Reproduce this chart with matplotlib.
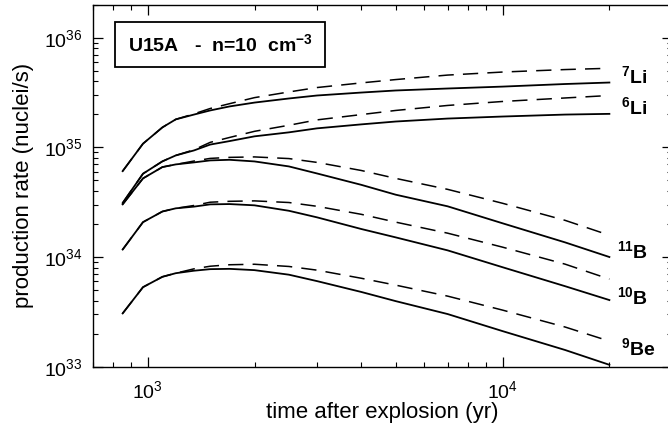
import matplotlib
matplotlib.use("Agg")
import matplotlib.pyplot as plt
from matplotlib.patches import Rectangle


# production rates (nuclei/s); solid and dashed models
time_yr = [850, 970, 1100, 1200, 1350, 1500, 1700, 2000, 2500, 3000, 4000, 5000, 7000, 10000, 15000, 20000]

li7_solid = [6.07e34, 1.08e35, 1.52e35, 1.80e35, 1.99e35, 2.17e35, 2.36e35, 2.56e35, 2.79e35, 2.97e35,
             3.16e35, 3.30e35, 3.44e35, 3.58e35, 3.78e35, 3.90e35]
li7_dashed = [6.07e34, 1.08e35, 1.52e35, 1.80e35, 2.02e35, 2.26e35, 2.50e35, 2.84e35, 3.20e35, 3.51e35,
              3.87e35, 4.15e35, 4.56e35, 4.86e35, 5.12e35, 5.26e35]
li6_solid = [3.11e34, 5.75e34, 7.45e34, 8.44e34, 9.37e34, 1.06e35, 1.14e35, 1.26e35, 1.37e35, 1.49e35,
             1.62e35, 1.72e35, 1.83e35, 1.91e35, 1.99e35, 2.02e35]
li6_dashed = [3.11e34, 5.75e34, 7.45e34, 8.44e34, 9.50e34, 1.11e35, 1.23e35, 1.40e35, 1.59e35, 1.78e35,
              1.99e35, 2.17e35, 2.41e35, 2.62e35, 2.82e35, 2.97e35]
b11_solid = [3.02e34, 5.21e34, 6.61e34, 6.99e34, 7.29e34, 7.60e34, 7.70e34, 7.44e34, 6.70e34, 5.78e34,
             4.55e34, 3.70e34, 2.90e34, 2.03e34, 1.36e34, 1.00e34]
b11_dashed = [3.02e34, 5.21e34, 6.61e34, 6.99e34, 7.50e34, 7.93e34, 8.10e34, 8.18e34, 7.90e34, 7.29e34,
              6.15e34, 5.21e34, 4.14e34, 3.09e34, 2.16e34, 1.58e34]
b10_solid = [1.17e34, 2.08e34, 2.60e34, 2.78e34, 2.88e34, 3.02e34, 3.04e34, 2.96e34, 2.64e34, 2.30e34,
             1.80e34, 1.51e34, 1.15e34, 8.07e33, 5.42e33, 4.05e33]
b10_dashed = [1.17e34, 2.08e34, 2.60e34, 2.78e34, 2.95e34, 3.16e34, 3.22e34, 3.25e34, 3.14e34, 2.90e34,
              2.45e34, 2.08e34, 1.65e34, 1.23e34, 8.61e33, 6.29e33]
be9_solid = [3.06e33, 5.31e33, 6.60e33, 7.12e33, 7.50e33, 7.75e33, 7.80e33, 7.59e33, 6.90e33, 6.03e33,
             4.80e33, 3.96e33, 3.02e33, 2.11e33, 1.42e33, 1.04e33]
be9_dashed = [3.06e33, 5.31e33, 6.60e33, 7.12e33, 7.80e33, 8.24e33, 8.50e33, 8.59e33, 8.20e33, 7.59e33,
              6.40e33, 5.54e33, 4.40e33, 3.28e33, 2.30e33, 1.71e33]

isotope_labels = [r"$^{\mathbf{7}}$Li", r"$^{\mathbf{6}}$Li", r"$^{\mathbf{11}}$B", r"$^{\mathbf{10}}$B", r"$^{\mathbf{9}}$Be"]
label_x = [21500, 21500, 21000, 21000, 21500]
label_y = [3.79e35, 1.95e35, 9.48e33, 3.64e33, 1.26e33]

title = r"U15A   -  n=10  cm$^{\mathbf{-3}}$"


def main() -> None:
    plt.rcParams["font.family"] = ["Liberation Sans", "DejaVu Sans"]
    plt.rcParams["mathtext.fontset"] = "custom"
    plt.rcParams["mathtext.rm"] = "Liberation Sans"
    plt.rcParams["mathtext.bf"] = "Liberation Sans:bold"

    fig = plt.figure(figsize=(6.68, 4.32), dpi=100)
    ax = fig.add_axes([0.1388, 0.1512, 0.867, 0.838])

    solid = [li7_solid, li6_solid, b11_solid, b10_solid, be9_solid]
    dashed = [li7_dashed, li6_dashed, b11_dashed, b10_dashed, be9_dashed]
    for ys, yd in zip(solid, dashed):
        ax.plot(time_yr, ys, color="black", lw=1.3)
        ax.plot(time_yr, yd, color="black", lw=1.1, dashes=(10, 6))

    ax.set_xscale("log")
    ax.set_yscale("log")
    ax.set_xlim(700, 3e4)
    ax.set_ylim(1e33, 2e36)

    for text, x, y in zip(isotope_labels, label_x, label_y):
        ax.text(x, y, text, fontsize=14, fontweight="bold", ha="left", va="baseline")

    ax.add_patch(Rectangle((0.0385, 0.828), 0.3625, 0.124, transform=ax.transAxes,
                           fill=False, lw=1.3, color="black"))
    ax.text(0.2197, 0.890, title, transform=ax.transAxes, fontsize=14,
            fontweight="bold", ha="center", va="center")

    ax.tick_params(which="both", direction="in", top=True, right=True, labelsize=14)
    ax.tick_params(which="major", length=7, width=0.9)
    ax.tick_params(which="minor", length=3.6, width=0.8)
    ax.tick_params(axis="x", which="major", pad=10)
    ax.tick_params(axis="y", which="major", pad=7.5)
    for spine in ax.spines.values():
        spine.set_linewidth(1.0)

    ax.set_xlabel("time after explosion (yr)", fontsize=16)
    ax.set_ylabel("production rate (nuclei/s)", fontsize=16)
    ax.xaxis.set_label_coords(0.5, -0.097)
    ax.yaxis.set_label_coords(-0.101, 0.5)

    fig.savefig("out.png", dpi=100)
    plt.close(fig)


if __name__ == "__main__":
    main()
